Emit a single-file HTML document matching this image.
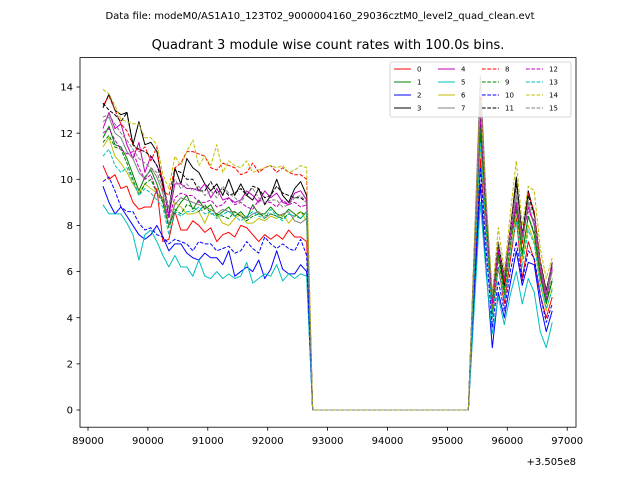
<!DOCTYPE html>
<html><head><meta charset="utf-8"><style>
body{margin:0;background:#fff;}
svg text{font-family:"DejaVu Sans","Liberation Sans",sans-serif;}
</style></head><body>
<svg id="chart" width="640" height="480" xmlns="http://www.w3.org/2000/svg">
<rect width="640" height="480" fill="#fff"/>
<text x="320" y="19" font-size="10" text-anchor="middle">Data file: modeM0/AS1A10_123T02_9000004160_29036cztM0_level2_quad_clean.evt</text>
<text x="328" y="49" font-size="13" text-anchor="middle">Quadrant 3 module wise count rates with 100.0s bins.</text>
<g id="series"></g>
<rect x="80" y="57.6" width="496" height="369.6" fill="none" stroke="#000" stroke-width="0.8"/>
<g id="axes"></g>
<text x="576" y="465" font-size="10" text-anchor="end">+3.505e8</text>
<g id="legend"></g>
</svg>
<script>
const xStart = 89250;
const xStep = 100;
const xTicks = [89000,90000,91000,92000,93000,94000,95000,96000,97000];
const yTicks = [0,2,4,6,8,10,12,14];
const labels = ["0","1","2","3","4","5","6","7","8","9","10","11","12","13","14","15"];
const gap = [0,0,0,0,0,0,0,0,0,0,0,0,0,0,0,0,0,0,0,0,0,0,0,0,0,0,0];
const seg1 = [
[10.6,10.0,10.2,9.6,9.7,9.0,8.7,8.8,8.8,9.6,7.3,7.4,8.6,7.8,7.8,8.2,8.0,7.7,7.9,7.3,7.6,7.7,7.5,8.0,7.9,7.6,7.3,7.6,7.4,7.6,7.4,7.8,7.5,7.5,7.3],
[11.8,12.3,11.5,11.4,10.9,10.2,9.5,10.1,10.4,9.8,9.0,8.0,8.6,9.0,9.3,8.7,9.1,8.7,8.9,8.4,8.6,8.8,8.4,8.6,8.3,8.9,8.5,8.5,8.8,8.5,8.4,8.7,8.5,8.3,8.6],
[9.7,9.0,8.5,8.8,8.4,8.0,7.6,7.4,7.6,8.0,7.5,6.9,7.2,7.2,6.8,6.6,6.5,6.8,6.6,6.6,6.3,6.9,5.8,6.0,6.2,6.0,6.5,5.7,6.1,6.9,6.1,5.9,5.9,6.3,6.0],
[13.1,13.7,13.0,12.8,12.9,11.5,12.5,11.5,11.6,11.2,9.8,8.4,10.5,9.8,10.9,10.5,10.3,9.8,9.5,9.8,9.3,10.0,9.3,9.8,9.3,9.1,9.6,8.9,9.3,10.0,9.3,9.0,9.6,9.9,9.3],
[12.2,12.9,12.2,12.4,11.5,10.9,11.6,10.3,11.0,10.6,10.0,8.4,9.8,9.8,9.6,9.6,9.5,9.8,9.2,9.6,9.1,9.2,9.0,9.1,9.5,9.3,9.0,9.5,9.2,9.4,9.0,8.9,9.4,9.5,9.1],
[8.9,8.5,8.5,8.5,8.1,7.6,6.5,7.6,7.8,7.3,6.7,6.2,6.7,6.2,6.2,5.8,6.5,5.8,5.7,6.0,5.7,5.9,5.7,5.8,6.4,5.5,5.7,5.9,5.8,6.3,5.6,5.9,5.7,5.9,5.8],
[11.4,11.8,11.0,10.7,10.3,9.8,9.4,9.8,9.6,9.4,9.2,8.0,9.0,8.8,8.5,8.5,8.6,8.1,8.7,8.5,8.1,8.0,8.3,8.5,8.1,8.1,8.3,8.2,8.4,8.3,8.5,8.1,8.4,8.6,8.2],
[12.5,12.7,12.0,11.8,11.2,10.9,10.3,10.0,10.5,10.1,9.4,8.0,8.9,9.2,9.1,9.0,8.9,8.8,8.7,8.5,8.7,8.6,8.6,8.4,8.3,8.5,8.6,8.3,8.5,8.4,8.5,8.6,8.2,8.1,8.3],
[13.2,13.6,13.0,12.4,12.1,11.5,11.2,11.4,10.8,11.4,9.5,9.3,10.5,10.7,11.2,11.2,11.1,11.0,10.5,10.4,10.7,10.6,10.5,10.2,10.3,10.7,10.3,10.5,10.6,10.3,10.5,10.3,10.2,10.2,10.0],
[11.6,11.9,11.4,11.3,10.7,10.0,9.3,9.8,10.0,9.4,9.0,7.9,8.7,8.5,8.9,8.8,8.6,8.9,8.5,8.5,8.4,8.3,8.6,8.4,8.2,8.4,8.5,8.4,8.5,8.4,8.3,8.5,8.4,8.6,8.4],
[9.9,10.1,9.5,8.8,8.6,8.6,8.1,7.8,7.9,7.6,7.5,7.2,7.4,7.3,7.2,6.9,7.3,7.2,7.2,6.9,7.0,7.1,6.8,6.9,7.3,7.0,6.8,7.5,7.2,7.0,7.2,7.0,6.9,7.4,6.7],
[13.3,13.0,12.8,12.5,12.9,11.5,11.3,11.2,11.0,10.6,9.8,8.7,10.4,10.3,10.0,10.0,9.5,9.5,9.9,9.4,9.6,9.3,9.4,9.6,9.3,9.7,9.6,9.2,9.3,9.7,9.4,9.3,9.2,9.2,9.0],
[12.0,12.2,11.7,11.3,11.1,11.2,10.5,10.0,10.2,9.4,9.2,8.3,9.2,9.4,9.3,9.3,9.0,9.0,9.1,8.8,8.9,9.2,8.9,9.0,8.8,8.7,9.1,9.0,9.0,8.8,9.1,8.9,9.0,8.8,8.9],
[11.0,11.3,10.6,10.3,10.5,9.9,9.3,9.6,9.4,9.1,8.8,7.6,8.6,8.4,8.6,8.6,8.8,8.5,8.6,8.3,8.5,8.6,8.4,8.2,8.4,8.6,8.4,8.3,8.7,8.4,8.2,8.5,8.4,8.3,8.6],
[13.9,13.7,13.2,12.6,12.5,12.4,12.4,11.8,11.8,11.5,10.2,9.6,11.0,10.6,11.2,11.7,10.6,11.0,10.6,11.5,10.3,10.8,10.6,10.5,10.8,10.3,10.4,10.5,10.6,10.5,10.6,10.3,10.4,10.6,10.5],
[12.7,12.8,12.4,12.0,11.7,11.3,10.9,10.7,10.5,10.3,9.6,8.7,10.0,9.6,9.8,9.5,9.7,9.3,9.5,9.2,9.7,9.4,9.2,9.0,9.4,9.6,9.2,9.0,9.1,9.1,8.8,8.9,9.2,9.3,9.0]
];
const seg2 = [
[5.5,10.9,7.5,4.0,6.2,4.6,6.5,8.3,5.7,7.3,6.5,5.0,4.0,4.9],
[6.5,12.0,8.0,4.6,6.8,5.2,7.0,9.0,6.8,8.4,7.6,5.8,4.6,5.6],
[5.0,9.8,6.0,2.7,5.1,4.0,5.5,6.9,5.4,6.4,6.3,4.6,3.4,4.3],
[6.8,13.0,8.5,4.5,7.0,5.4,7.8,10.1,7.5,9.5,8.5,6.3,5.1,6.4],
[6.7,12.6,8.3,4.4,7.0,5.8,7.5,9.0,7.5,8.8,8.0,6.0,4.8,6.1],
[4.5,9.0,5.8,3.3,4.9,3.7,5.0,6.0,4.6,5.7,5.1,3.4,2.7,3.8],
[6.3,11.5,7.8,4.3,6.6,5.0,7.0,8.6,6.5,8.0,7.3,5.5,4.3,5.3],
[7.2,14.5,9.0,4.8,7.2,5.6,7.7,9.3,7.2,9.0,8.0,6.2,5.0,6.0],
[7.0,13.6,8.8,4.6,7.3,5.5,7.9,9.8,7.2,9.4,8.6,6.5,5.2,6.2],
[6.4,12.3,8.0,4.2,6.6,5.0,7.2,8.7,6.7,8.4,7.7,5.8,4.7,5.7],
[5.5,10.5,6.8,3.6,5.6,4.3,6.0,7.3,5.6,6.9,6.6,5.0,3.8,4.6],
[7.0,13.0,8.7,4.8,7.2,5.8,7.8,9.8,7.6,9.3,8.5,6.4,5.2,6.3],
[6.8,12.8,8.5,4.6,6.9,5.7,7.6,8.8,7.6,8.6,8.2,6.2,5.0,6.4],
[6.0,11.6,7.5,4.0,6.2,4.8,6.8,8.2,6.2,7.8,7.2,5.4,4.4,5.2],
[7.2,13.4,9.0,5.0,7.9,6.0,8.5,10.8,8.0,9.7,9.5,7.0,5.7,6.6],
[7.0,13.3,8.8,4.9,7.3,5.8,7.8,9.6,7.4,9.1,8.4,6.3,5.1,6.2]
];
const colors = ["#ff0000","#008000","#0000ff","#000000","#bf00bf","#00bfbf","#bfbf00","#808080"];

const NS = "http://www.w3.org/2000/svg";
function X(t){ return 88 + (t - 89000) * 59.9 / 1000; }
function Y(v){ return 410 - v * 23.07; }
function mk(tag, attrs, parent){ const e = document.createElementNS(NS, tag); for (const k in attrs) e.setAttribute(k, attrs[k]); parent.appendChild(e); return e; }

const sg = document.getElementById("series");
for (let s = 0; s < 16; s++) {
  const vals = seg1[s].concat(gap, seg2[s]);
  const pts = vals.map((v, i) => X(xStart + i * xStep).toFixed(2) + "," + Y(v).toFixed(2)).join(" ");
  const pl = mk("polyline", {points: pts, fill: "none", stroke: colors[s % 8], "stroke-width": 1, "stroke-linejoin": "round"}, sg);
  if (s >= 8) pl.setAttribute("stroke-dasharray", "3.7,1.6");
  
  
}

const ax = document.getElementById("axes");
xTicks.forEach(t => {
  const x = X(t);
  const l = mk("line", {x1: x, x2: x, y1: 427.2, y2: 430.7, stroke: "#000", "stroke-width": 0.8}, ax);
  
  
  const tx = mk("text", {x: x, y: 444, "font-size": 10, "text-anchor": "middle"}, ax);
  tx.textContent = t;
  
  
});
yTicks.forEach(v => {
  const y = Y(v);
  const l = mk("line", {x1: 76.5, x2: 80, y1: y, y2: y, stroke: "#000", "stroke-width": 0.8}, ax);
  
  
  const tx = mk("text", {x: 73, y: y + 3.6, "font-size": 10, "text-anchor": "end"}, ax);
  tx.textContent = v;
  
  
});

const lg = document.getElementById("legend");
const box = mk("rect", {x: 390, y: 62, width: 181, height: 55, rx: 2, fill: "#fff", "fill-opacity": 0.8, stroke: "#ccc", "stroke-width": 0.8}, lg);


const colX = [394, 438, 482, 526];
const rowY = [69, 82, 95, 108];
for (let s = 0; s < 16; s++) {
  const c = Math.floor(s / 4), r = s % 4;
  const g = mk("g", {}, lg);
  
  
  const ln = mk("line", {x1: colX[c], x2: colX[c] + 17, y1: rowY[r], y2: rowY[r], stroke: colors[s % 8], "stroke-width": 1}, g);
  if (s >= 8) ln.setAttribute("stroke-dasharray", "3.7,1.6");
  
  
  const tx = mk("text", {x: colX[c] + 23, y: rowY[r] + 2.5, "font-size": 7}, g);
  tx.textContent = labels[s];
  
  
}
</script>
</body></html>
